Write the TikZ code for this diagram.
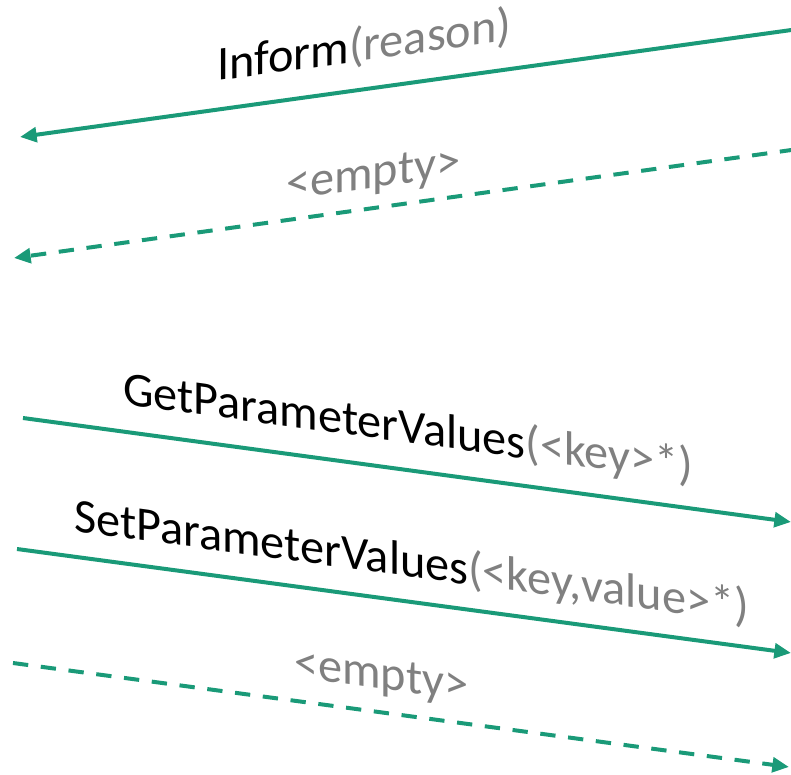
\documentclass[tikz,border=0pt]{standalone}
\usepackage{fontspec}
\setmainfont{Carlito}
\usetikzlibrary{arrows.meta}
\definecolor{msggreen}{RGB}{26,154,120}
\definecolor{paramgray}{RGB}{128,128,128}
\begin{document}
\begin{tikzpicture}[x=0.75pt,y=-0.75pt,
  msg/.style={draw=msggreen,line width=3pt,-{Triangle[length=12.5pt,width=11pt]}},
  reply/.style={msg,dash pattern=on 11.5pt off 9.5pt},
  lbl/.style={font=\fontsize{36.2}{40}\selectfont,inner sep=0pt,anchor=base west},
  up/.style={lbl,yslant=0.139},
  down/.style={lbl,yslant=-0.136}]
\useasboundingbox (0,0) rectangle (791,774);
% endpoints
\coordinate (a1) at (795,29.5);  \coordinate (b1) at (20,137);
\coordinate (a2) at (795,149.5); \coordinate (b2) at (14,258);
\coordinate (a3) at (23,418);    \coordinate (b3) at (791,522);
\coordinate (a4) at (17,549);    \coordinate (b4) at (791,653);
\coordinate (a5) at (13,663);    \coordinate (b5) at (789,767);
% connectors
\draw[msg] (a1) -- (b1);
\draw[reply] (a2) -- (b2);
\draw[msg] (a3) -- (b3);
\draw[msg] (a4) -- (b4);
\draw[reply] (a5) -- (b5);
% labels
\node[up] (l1) at (217,81) {Inform\textcolor{paramgray}{(reason)}};
\node[up,text=paramgray] (l2) at (286,200) {<empty>};
\node[down] (l3) at (123,404) {GetParameterValues\textcolor{paramgray}{(<key>*)}};
\node[down] (l4) at (74,531) {SetParameterValues\textcolor{paramgray}{(<key,value>*)}};
\node[down,text=paramgray] (l5) at (294,677) {<empty>};
\end{tikzpicture}
\end{document}
